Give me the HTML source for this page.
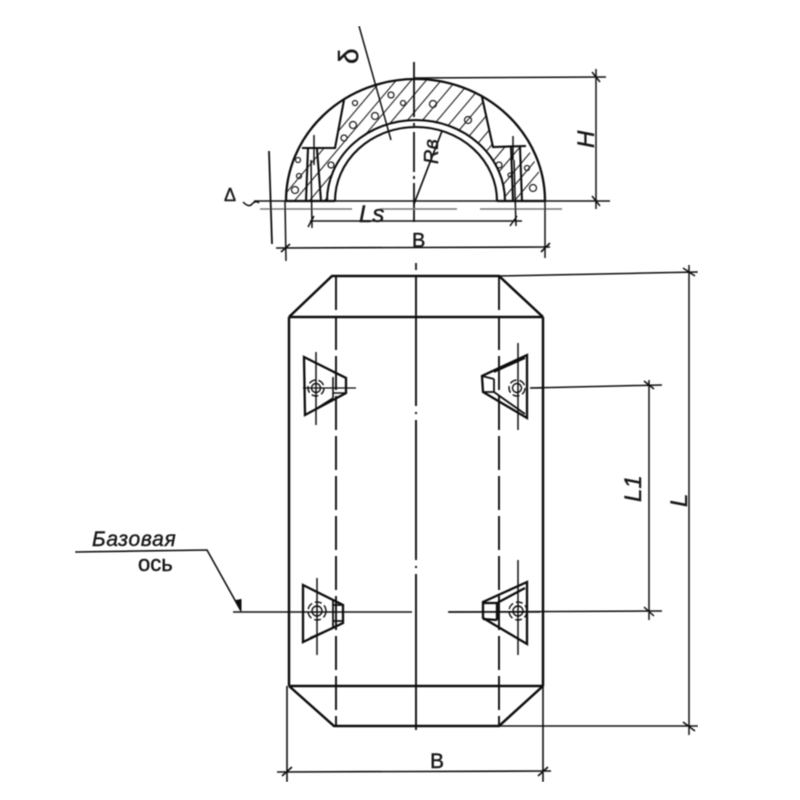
<!DOCTYPE html>
<html><head><meta charset="utf-8"><style>
html,body{margin:0;padding:0;background:#fff}
svg{display:block}
text{fill:#151515;font-family:"Liberation Sans",sans-serif;font-style:italic}
</style></head><body>
<svg width="800" height="800" viewBox="0 0 800 800" xmlns="http://www.w3.org/2000/svg">
<defs>
<filter id="b" x="0" y="0" width="100%" height="100%"><feGaussianBlur stdDeviation="0.5"/></filter>
<clipPath id="h"><path d="M286 201 A129.500 122 0 0 1 302 148 L335 148 L344 100 A129.500 122 0 0 1 482 97 L493 147 L526 146 A129.500 122 0 0 1 545 201 L505 201 A89 81 0 0 0 327 201Z"/></clipPath>
</defs>
<g filter="url(#b)" fill="none" stroke="#111" stroke-width="1.800">
<!-- hatching -->
<g clip-path="url(#h)" stroke-width="1.100" stroke="#222">
<path d="M300 212 L420 70 M315 212 L435 70 M330 212 L450 70 M345 212 L465 70 M360 212 L480 70 M375 212 L495 70 M390 212 L510 70 M405 212 L525 70 M420 212 L540 70 M435 212 L555 70 M450 212 L570 70 M465 212 L585 70 M480 212 L600 70 M285 212 L405 70 M270 212 L390 70 M492 212 L612 70 M505 212 L625 70"/>
</g>
<g stroke-width="1.300" fill="none" stroke="#222">
<circle cx="391" cy="95" r="3"/><circle cx="403" cy="103" r="2.500"/><circle cx="353" cy="125" r="3.500"/><circle cx="375" cy="116" r="3.500"/><circle cx="355" cy="103" r="2.500"/><circle cx="433" cy="104" r="3.500"/><circle cx="468" cy="120" r="3.500"/><circle cx="344" cy="138" r="3"/><circle cx="331" cy="165" r="3"/><circle cx="295" cy="190" r="3.500"/><circle cx="298" cy="160" r="2.500"/><circle cx="299" cy="176" r="2.500"/><circle cx="499" cy="165" r="3"/><circle cx="533" cy="188" r="3.500"/><circle cx="527" cy="168" r="2.500"/><circle cx="510" cy="175" r="2"/>
</g>
<!-- arch -->
<path d="M286 201 A129.500 122 0 0 1 545 201" stroke-width="2.300"/>
<path d="M327 201 A89 81 0 0 1 505 201" stroke-width="2.100"/>
<path d="M335 201 A81 74 0 0 1 497 201" stroke-width="2.100"/>
<path d="M344 100 L335 148 L302 148 M482 97 L493 147 L526 146" stroke-width="2.100"/>
<path d="M286 201 L335 201 M497 201 L545 201" stroke-width="2.200"/>
<path d="M308 148 L306 201 M317 149 L321 201 M511 146 L513 201 M520 147 L522 201" stroke-width="2.100"/>
<path d="M314 135 L314 165 M513 136 L513 160" stroke-width="1.500"/>
<!-- section dims -->
<path d="M359 26 L391 140" stroke-width="1.500"/>
<path d="M414 62 L414 222" stroke-width="1.800" stroke-dasharray="55 6 3 6 40 4 3 4 100"/>
<path d="M414 78 L606 77 M596 69 L596 209 M592 72 L600 82 M592 196 L600 206" stroke-width="1.500"/>
<path d="M254 201 L610 201" stroke-width="1.500"/>
<path d="M260 209 L352 209 M380 209 L457 209 M480 209 L562 209" stroke="#777" stroke-width="1.600"/>
<path d="M269 151 L272 244" stroke-width="1.800"/>
<path d="M311 160 L312 228 M514 160 L516 226" stroke-width="1.500"/>
<path d="M310 221 L522 221 M308 227 L314 216 M510 226 L517 216" stroke-width="1.500"/>
<path d="M285 201 L286 261 M545 201 L545 258" stroke-width="1.500"/>
<path d="M276 248 L550 247 M281 252 L290 244 M541 252 L550 243" stroke-width="1.600"/>
<path d="M414 204 L442 131" stroke-width="1.700"/>
<path d="M416 263 L416 270" stroke-width="1.700"/>
<path d="M243 202 Q249 208 252 204 Q256 200 259 203" stroke-width="1.500"/>
<!-- main body -->
<path d="M289 317 L332 276 L499 276 L543 317 M289 317 L543 317 M289 317 L289 686 M543 317 L543 686 M289 686 L543 686 M289 686 L334 726 L499 726 L543 686" stroke-width="2.500"/>
<path d="M336 276 L336 726 M499 276 L499 726" stroke-width="1.900" stroke-dasharray="34 6"/>
<path d="M416 276 L416 406 M416 412 L416 414 M416 420 L416 560 M416 566 L416 568 M416 574 L416 730" stroke-width="1.900"/>
<!-- dims -->
<path d="M499 276 L698 272 M499 726 L698 726 M689 265 L689 735 M683 268 L695 276 M683 722 L695 731" stroke-width="1.500"/>
<path d="M530 388 L662 385 M448 612 L662 611 M649 380 L649 620 M644 381 L654 389 M644 607 L654 616" stroke-width="1.500"/>
<path d="M287 686 L287 782 M543 686 L543 782 M277 772 L551 771 M282 776 L292 767 M538 776 L548 767" stroke-width="1.600"/>
<path d="M75 552 L207 550 L241 611" stroke-width="1.600"/>
<path d="M236 600 L241 611 L241 599" fill="#111" stroke-width="1"/>
<path d="M233 612 L412 612" stroke-width="1.500"/>
<path d="M303 388 L356 388 M531 388 L542 388" stroke-width="1.200"/>
<path d="M316 352 L316 425 M518 343 L518 430 M317 578 L317 655 M518 560 L518 655" stroke-width="1.500"/>
<!-- brackets -->
<g stroke-width="2.300">
<path d="M304 357 L346 378 L346 393 L305 415Z"/>
<path d="M333 377 L333 398 M333 372 L346 378 M333 393 L346 393 M333 398 L311 412" stroke-width="1.600"/>
<path d="M527 355 L482 376 L483 392 L527 418Z"/>
<path d="M494 379 L494 392 M482 376 L494 379 M483 392 L494 392 M494 392 L525 414 M494 372 L525 358" stroke-width="1.800"/>
<path d="M303 585 L343 605 L343 623 L303 642Z"/>
<path d="M333 600 L333 628 M333 605 L343 605 M333 621 L343 621 M333 628 L310 638" stroke-width="1.800"/>
<path d="M527 582 L483 602 L483 618 L527 644Z"/>
<path d="M497 603 L497 620 M483 603 L497 603 M483 619 L497 620 M497 603 L525 588" stroke-width="2.300"/>
</g>
<g stroke-width="1.400">
<circle cx="316" cy="388" r="4.500"/><circle cx="316" cy="388" r="8" stroke-dasharray="7 3"/>
<circle cx="517" cy="388" r="4.500"/><circle cx="517" cy="388" r="8" stroke-dasharray="7 3"/>
<circle cx="317" cy="611" r="5"/><circle cx="317" cy="611" r="9" stroke-dasharray="7 3"/>
<circle cx="518" cy="611" r="5"/><circle cx="518" cy="611" r="9" stroke-dasharray="7 3"/>
</g>
<path d="M449 612 L540 612" stroke-width="1.500"/>
<!-- labels -->
<g fill="#151515" stroke="#151515" stroke-width="0.400">
<text x="0" y="0" font-size="28" transform="translate(358 64) rotate(-90)" style="font-style:normal">δ</text>
<text x="0" y="0" font-size="24" transform="translate(594 148) rotate(-90)">H</text>
<text x="0" y="0" font-size="20" transform="translate(438 164) rotate(-90)">Rв</text>
<text x="224" y="201" font-size="18" style="font-style:normal">Δ</text>
<text x="359" y="222" font-size="24">Ls</text>
<text x="412" y="247" font-size="20" style="font-style:normal">B</text>
<text x="430" y="768" font-size="21" style="font-style:normal">B</text>
<text x="0" y="0" font-size="24" transform="translate(641 502) rotate(-90)">L1</text>
<text x="0" y="0" font-size="24" transform="translate(687 507) rotate(-90)">L</text>
<text x="92" y="546" font-size="21" letter-spacing="0.700">Базовая</text>
<text x="138" y="571" font-size="22" style="font-style:normal">ось</text>
</g>
</g>
</svg>
</body></html>
